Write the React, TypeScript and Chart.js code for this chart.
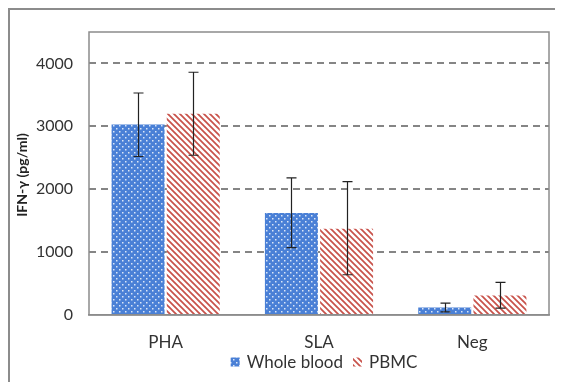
import React, { useEffect, useRef } from "react";
import { Chart, registerables } from "chart.js";
Chart.register(...registerables);

const categories = ["PHA", "SLA", "Neg"];
const seriesNames = ["Whole blood", "PBMC"];
const wholeBlood = [3030, 1620, 120];
const wholeBloodLow = [2520, 1070, 50];
const wholeBloodHigh = [3530, 2180, 190];
const pbmc = [3200, 1370, 310];
const pbmcLow = [2540, 640, 110];
const pbmcHigh = [3860, 2120, 520];
const yTicks = [0, 1000, 2000, 3000, 4000];
const yTitle = "IFN-γ (pg/ml)";

const FONT = "Lato, 'Open Sans', sans-serif";

function dotPattern(): CanvasPattern | string {
  const c = document.createElement("canvas");
  c.width = 6; c.height = 6;
  const ctx = c.getContext("2d");
  if (!ctx) return "#4a7fd4";
  ctx.fillStyle = "#4a80d6";
  ctx.fillRect(0, 0, 6, 6);
  ctx.fillStyle = "rgba(255,255,255,0.8)";
  ctx.fillRect(1, 1, 1.5, 1.5);
  ctx.fillRect(4, 4, 1.5, 1.5);
  return ctx.createPattern(c, "repeat") || "#4a7fd4";
}

function hatchPattern(): CanvasPattern | string {
  const s = 6;
  const c = document.createElement("canvas");
  c.width = s; c.height = s;
  const ctx = c.getContext("2d");
  if (!ctx) return "#c0504d";
  ctx.fillStyle = "#ffffff";
  ctx.fillRect(0, 0, s, s);
  ctx.strokeStyle = "#c8524a";
  ctx.lineWidth = 1.7;
  ctx.beginPath();
  ctx.moveTo(-s, 0); ctx.lineTo(s * 2, s * 3);
  ctx.moveTo(0, 0); ctx.lineTo(s, s);
  ctx.moveTo(-s, -s); ctx.lineTo(s * 2, s * 2);
  ctx.moveTo(0, -s); ctx.lineTo(s * 2, s);
  ctx.moveTo(-s, 0); ctx.lineTo(s, s * 2);
  ctx.stroke();
  return ctx.createPattern(c, "repeat") || "#c0504d";
}

const errorBars = {
  id: "errorBars",
  afterDatasetsDraw(chart: any) {
    const ctx = chart.ctx;
    const y = chart.scales.y;
    const lows = [wholeBloodLow, pbmcLow];
    const highs = [wholeBloodHigh, pbmcHigh];
    ctx.save();
    ctx.strokeStyle = "#222";
    ctx.lineWidth = 1.2;
    chart.data.datasets.forEach((_: any, di: number) => {
      const meta = chart.getDatasetMeta(di);
      meta.data.forEach((bar: any, i: number) => {
        const x = Math.round(bar.x) + 0.5;
        const yl = y.getPixelForValue(lows[di][i]);
        const yh = y.getPixelForValue(highs[di][i]);
        ctx.beginPath();
        ctx.moveTo(x, yl); ctx.lineTo(x, yh);
        ctx.moveTo(x - 5, yl); ctx.lineTo(x + 5, yl);
        ctx.moveTo(x - 5, yh); ctx.lineTo(x + 5, yh);
        ctx.stroke();
      });
    });
    ctx.restore();
  },
};

const decorations = {
  id: "decorations",
  beforeDatasetsDraw(chart: any) {
    const { ctx, chartArea: a } = chart;
    ctx.save();
    ctx.strokeStyle = "#8c8c8c";
    ctx.lineWidth = 1.5;
    ctx.strokeRect(a.left, a.top, a.right - a.left, a.bottom - a.top);
    ctx.restore();
  },
  afterDraw(chart: any) {
    const { ctx } = chart;
    ctx.save();
    ctx.translate(12, 165);
    ctx.rotate(-Math.PI / 2);
    ctx.textAlign = "center";
    ctx.textBaseline = "middle";
    ctx.fillStyle = "#222";
    ctx.font = "bold 14px " + FONT;
    ctx.fillText(yTitle, 0, 0);
    ctx.restore();

    ctx.save();
    ctx.font = "17px " + FONT;
    ctx.textBaseline = "middle";
    ctx.textAlign = "left";
    const box = 9;
    const gapBoxText = 7;
    const gapItems = 10;
    const widths = seriesNames.map((n) => box + gapBoxText + ctx.measureText(n).width);
    const total = widths.reduce((s, w) => s + w, 0) + gapItems;
    let x = 314 - total / 2;
    const cy = 352;
    chart.data.datasets.forEach((ds: any, i: number) => {
      ctx.fillStyle = ds.backgroundColor;
      ctx.fillRect(x, cy - box / 2, box, box);
      ctx.fillStyle = "#333";
      ctx.fillText(seriesNames[i], x + box + gapBoxText, cy + 1);
      x += widths[i] + gapItems;
    });
    ctx.restore();
  },
};

export default function App() {
  const ref = useRef<HTMLCanvasElement>(null);
  useEffect(() => {
    if (!ref.current) return;
    const chart = new Chart(ref.current, {
      type: "bar",
      data: {
        labels: categories,
        datasets: [
          { label: seriesNames[0], data: wholeBlood, backgroundColor: dotPattern() as any, borderWidth: 0 },
          { label: seriesNames[1], data: pbmc, backgroundColor: hatchPattern() as any, borderWidth: 0 },
        ],
      },
      options: {
        animation: false,
        responsive: false,
        maintainAspectRatio: false,
        layout: { padding: { top: 22, right: 14, bottom: 28, left: 0 } },
        datasets: { bar: { categoryPercentage: 0.72, barPercentage: 0.96 } },
        scales: {
          y: {
            min: 0,
            max: 4500,
            afterBuildTicks: (s: any) => { s.ticks = yTicks.map((v) => ({ value: v })); },
            afterFit: (s: any) => { s.width = 79; s.paddingTop = 0; s.paddingBottom = 0; },
            border: { display: false, dash: [7, 5] },
            grid: {
              color: (c: any) => (c.tick && c.tick.value === 0 ? "rgba(0,0,0,0)" : "#858585"),
              lineWidth: 2,
              drawTicks: false,
            },
            ticks: {
              color: "#333",
              font: { family: FONT, size: 16 },
              padding: 16,
              callback: (v: any) => String(v),
            },
          },
          x: {
            grid: { display: false, drawTicks: false },
            border: { color: "#8c8c8c", width: 1.5 },
            ticks: { color: "#333", font: { family: FONT, size: 17 }, padding: 17 },
            afterFit: (s: any) => { s.height = 39; },
          },
        },
        plugins: {
          legend: { display: false },
          tooltip: { enabled: false },
        },
      },
      plugins: [decorations, errorBars],
    });
    return () => chart.destroy();
  }, []);
  return (
    <div style={{ borderLeft: "2px solid #8c8c8c", borderTop: "2px solid #8c8c8c", width: 553, height: 372 }}>
      <canvas ref={ref} width={553} height={372} style={{ display: "block" }} />
    </div>
  );
}
